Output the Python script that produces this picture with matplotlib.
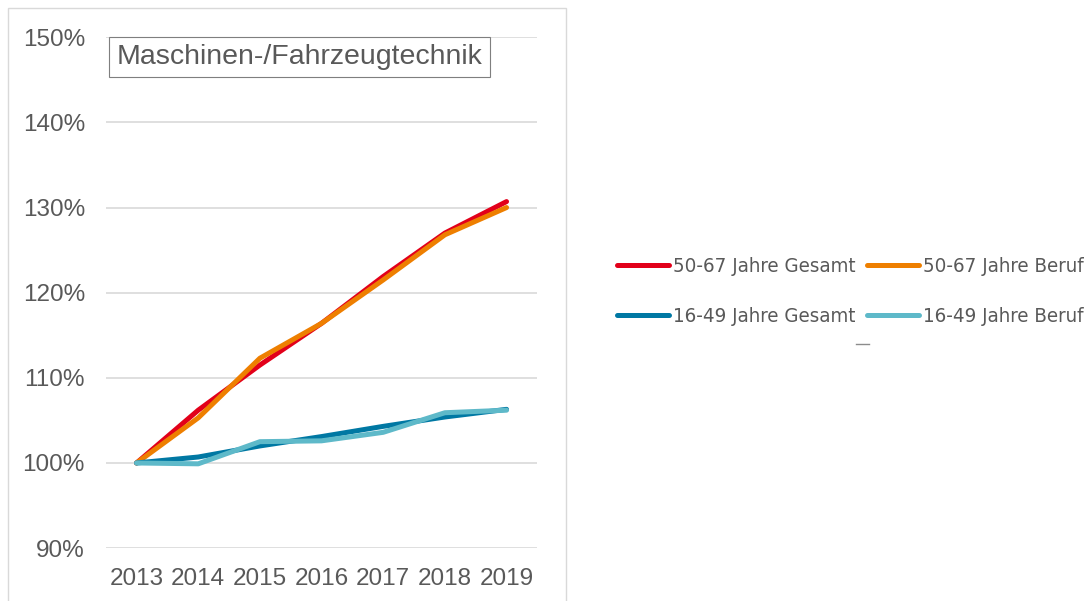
import matplotlib.pyplot as plt
from matplotlib.patches import Rectangle
from matplotlib.lines import Line2D
from matplotlib.ticker import FuncFormatter

years = ["2013", "2014", "2015", "2016", "2017", "2018", "2019"]
alt_gesamt = [100.0, 106.2, 111.5, 116.4, 121.9, 127.0, 130.7]
alt_beruf = [100.0, 105.3, 112.3, 116.4, 121.5, 126.8, 130.0]
jung_gesamt = [100.0, 100.7, 102.0, 103.1, 104.3, 105.4, 106.3]
jung_beruf = [100.0, 99.9, 102.5, 102.6, 103.6, 105.9, 106.2]

labels = ["50-67 Jahre Gesamt", "50-67 Jahre Beruf", "16-49 Jahre Gesamt", "16-49 Jahre Beruf"]
colors = ["#E2001A", "#EE7F00", "#0078A3", "#5EB9C9"]
title = "Maschinen-/Fahrzeugtechnik"

plt.rcParams['font.family'] = ['Liberation Sans', 'DejaVu Sans']
grey = "#595959"

fig = plt.figure(figsize=(10.9, 6.01), dpi=100)
ax = fig.add_axes([0.097, 0.088, 0.396, 0.85])

x = list(range(len(years)))
lines = []
for vals, c, lab in zip([alt_gesamt, alt_beruf, jung_gesamt, jung_beruf], colors, labels):
    ln, = ax.plot(x, vals, color=c, lw=3.6, solid_capstyle="round", label=lab)
    lines.append(ln)

ax.set_xlim(-0.5, len(years) - 0.5)
ax.set_ylim(90, 150)
ax.set_yticks(range(90, 151, 10))
ax.yaxis.set_major_formatter(FuncFormatter(lambda v, p: f"{v:.0f}%"))
ax.set_xticks(x)
ax.set_xticklabels(years)
ax.tick_params(length=0, labelsize=17.5, colors=grey)
ax.tick_params(axis="x", pad=14)
ax.tick_params(axis="y", pad=15)
ax.grid(axis="y", color="#D9D9D9", lw=1.2)
ax.set_axisbelow(True)
for s in ax.spines.values():
    s.set_visible(False)

ax.text(0.025, 0.962, title, transform=ax.transAxes, fontsize=20.5, color=grey,
        va="center", ha="left",
        bbox=dict(boxstyle="square,pad=0.25", fc="white", ec="#7F7F7F", lw=0.8))

# outer frame of the chart area
fig.patches.append(Rectangle((8 / 1090, -0.01), (566 - 8) / 1090, 1 - 8 / 601 + 0.01,
                             transform=fig.transFigure, fill=False, ec="#D9D9D9", lw=1))

# legend filled row by row: matplotlib fills columns, so reorder
order = [0, 2, 1, 3]
leg = fig.legend([lines[i] for i in order], [labels[i] for i in order], ncol=2,
                 loc="center left", bbox_to_anchor=(0.549, 0.5145),
                 frameon=False, handlelength=2.55, handletextpad=0.2, columnspacing=0.55,
                 labelspacing=1.5,
                 prop={"family": "DejaVu Sans", "stretch": "condensed", "size": 14.7})
for t in leg.get_texts():
    t.set_color(grey)

# small stray dash under the legend
fig.add_artist(Line2D([856 / 1090, 869 / 1090], [1 - 344 / 601] * 2,
                      transform=fig.transFigure, color="#8C8C8C", lw=1))

fig.savefig("out.png", dpi=100)
